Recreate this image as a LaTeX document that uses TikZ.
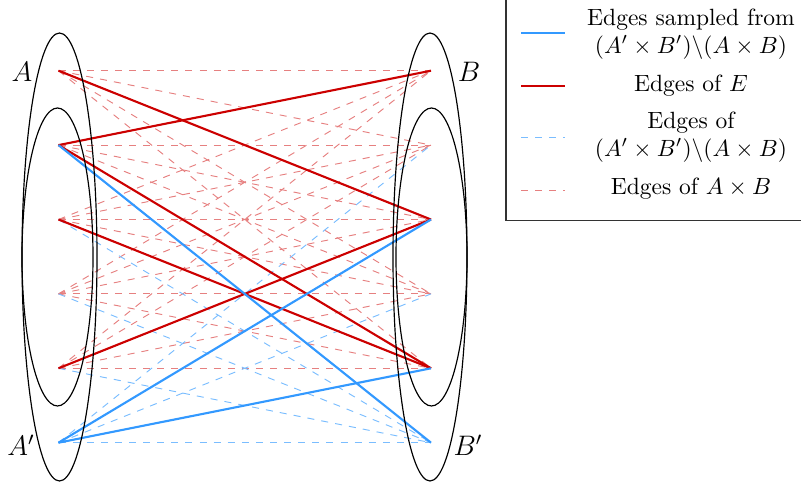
\documentclass[tikz,border=0pt]{standalone}
\definecolor{eblue}{RGB}{51,153,255}
\definecolor{ered}{RGB}{204,0,0}
\tikzset{
  solidred/.style={draw=ered, line width=0.9pt},
  solidblue/.style={draw=eblue, line width=0.9pt},
  dashred/.style={draw=ered!50, dashed, line width=0.4pt},
  dashblue/.style={draw=eblue!65, dashed, line width=0.4pt},
  setellipse/.style={draw=black, line width=0.5pt},
  setlabel/.style={font=\large, inner sep=0pt},
  legendtext/.style={align=center, inner sep=0pt},
  legendbox/.style={draw=black!80, line width=0.5pt},
}
\begin{document}
\begin{tikzpicture}[x=0.4255pt,y=-0.4255pt]
\useasboundingbox (0,0) rectangle (801,486);
% vertices
\coordinate (L1) at (58.5,70.7);  \coordinate (R1) at (431,70.7);
\coordinate (L2) at (58.5,145.1); \coordinate (R2) at (431,145.1);
\coordinate (L3) at (58.5,219.5); \coordinate (R3) at (431,219.5);
\coordinate (L4) at (58.5,293.9); \coordinate (R4) at (431,293.9);
\coordinate (L5) at (58.5,368.3); \coordinate (R5) at (431,368.3);
\coordinate (L6) at (58.5,442.7); \coordinate (R6) at (431,442.7);
% edges of A x B
\foreach \i in {1,...,5}{
  \foreach \j in {1,...,5}{
    \draw[dashred] (L\i) -- (R\j);
  }
}
% edges of (A' x B') \ (A x B)
\foreach \j in {2,...,6}{ \draw[dashblue] (L6) -- (R\j); }
\foreach \i in {2,...,5}{ \draw[dashblue] (L\i) -- (R6); }
% edges of E
\draw[solidred] (L1) -- (R3);
\draw[solidred] (L2) -- (R1);
\draw[solidred] (L2) -- (R5);
\draw[solidred] (L3) -- (R5);
\draw[solidred] (L5) -- (R3);
% sampled edges
\draw[solidblue] (L2) -- (R6);
\draw[solidblue] (L6) -- (R3);
\draw[solidblue] (L6) -- (R5);
% sets
\draw[setellipse] (59.5,257) ellipse [x radius=37.5, y radius=224];
\draw[setellipse] (57.5,257) ellipse [x radius=35.5, y radius=149];
\draw[setellipse] (430,257) ellipse [x radius=37, y radius=224];
\draw[setellipse] (431.5,257) ellipse [x radius=35.5, y radius=149];
\node[setlabel] (labA) at (22,71.5) {$A$};
\node[setlabel] (labB) at (469,71.5) {$B$};
\node[setlabel] (labAp) at (21,445) {$A'$};
\node[setlabel] (labBp) at (468,445) {$B'$};
% legend
\draw[legendbox] (506,-5) rectangle (812,220.5);
\coordinate (K1a) at (521,33);  \coordinate (K1b) at (565,33);
\coordinate (K2a) at (521,86);  \coordinate (K2b) at (565,86);
\coordinate (K3a) at (521,137); \coordinate (K3b) at (565,137);
\coordinate (K4a) at (521,190); \coordinate (K4b) at (565,190);
\draw[solidblue] (K1a) -- (K1b);
\draw[solidred] (K2a) -- (K2b);
\draw[dashblue] (K3a) -- (K3b);
\draw[dashred] (K4a) -- (K4b);
\node[legendtext] (T1) at (691,34) {Edges sampled from\\$(A'\times B')\backslash(A\times B)$};
\node[legendtext] (T2) at (691,86) {Edges of $E$};
\node[legendtext] (T3) at (691,137) {Edges of\\$(A'\times B')\backslash(A\times B)$};
\node[legendtext] (T4) at (691,189) {Edges of $A\times B$};
\end{tikzpicture}
\end{document}
